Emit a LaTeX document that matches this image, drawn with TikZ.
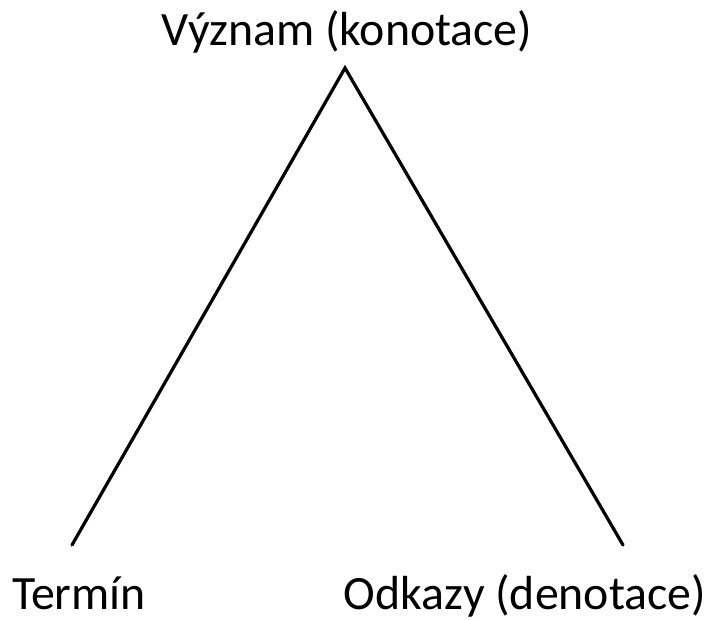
\documentclass[tikz,border=0pt]{standalone}
\usepackage{fontspec}
\setmainfont{Carlito}
\tikzset{%
    label/.style={inner sep=0pt, anchor=base, font=\fontsize{34}{40}\selectfont},
    side/.style={line width=2.3pt, line cap=round}
}
\begin{document}
\begin{tikzpicture}[x=0.025cm, y=-0.025cm]
    \useasboundingbox (0,0) rectangle (707,619);
%-----------------------------------------------
    \coordinate (apex) at (345,68);
    \coordinate (leftend) at (72,545);
    \coordinate (rightend) at (623,545);
%-----------------------------------------------
    \draw[side] (leftend) -- (apex) -- (rightend);
%-----------------------------------------------
    \node[label] (vyznam) at (347,45) {Význam (konotace)};
    \node[label] (termin) at (79,609) {Termín};
    \node[label] (odkazy) at (525,609) {Odkazy (denotace)};
\end{tikzpicture}
\end{document}
